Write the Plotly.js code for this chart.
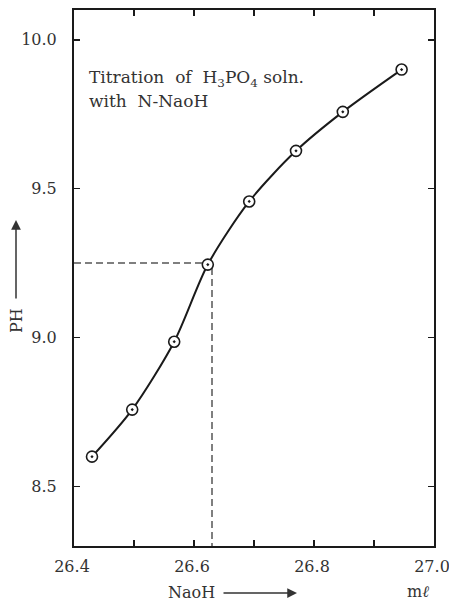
<!DOCTYPE html>
<html>
<head>
<meta charset="utf-8">
<script src="https://cdn.plot.ly/plotly-3.0.1.min.js"></script>
<style>html,body{margin:0;padding:0;background:#fff;}#chart{width:449px;height:607px;}</style>
</head>
<body>
<div id="chart"></div>
<script>
// Data
const naohML = [26.43, 26.497, 26.567, 26.623, 26.692, 26.77, 26.848, 26.946];
const pH = [8.60, 8.758, 8.986, 9.245, 9.457, 9.627, 9.758, 9.900];
// Reference (dashed) lines at the half-way point
const guideX = [26.4, 26.63, 26.63];
const guideY = [9.25, 9.25, 8.3];
const xTickVals = [26.4, 26.6, 26.8, 27.0];
const xTickText = ['26.4', '26.6', '26.8', '27.0'];
const xMinorTickVals = [26.5, 26.7, 26.9];
const yTickVals = [8.5, 9.0, 9.5, 10.0];
const yTickText = ['8.5', '9.0', '9.5', '10.0'];

const FONT = 'DejaVu Serif, Liberation Serif, serif';
const INK = '#1a1a1a';

const traces = [
  {
    x: guideX, y: guideY, mode: 'lines', type: 'scatter',
    line: {color: '#555', width: 1.5, dash: '7px,4px'},
    hoverinfo: 'skip', showlegend: false
  },
  {
    x: naohML, y: pH, mode: 'lines+markers', type: 'scatter',
    line: {color: INK, width: 2, shape: 'spline', smoothing: 0.8},
    marker: {symbol: 'circle-dot', size: 11, color: '#fff', line: {color: INK, width: 1.6}},
    showlegend: false
  }
];

// plot area: x 74..434 px, y 10..546 px
const L = 74, T = 10, W = 360, H = 536;
const px = v => (v - L) / W;
const py = v => (T + H - v) / H;

const layout = {
  width: 449, height: 607,
  margin: {l: L, r: 449 - L - W, t: T, b: 607 - T - H},
  paper_bgcolor: '#fff', plot_bgcolor: '#fff',
  font: {family: FONT, color: INK, size: 16},
  xaxis: {
    range: [26.4, 27.0], tickvals: xTickVals, ticktext: xTickText,
    ticks: 'inside', ticklen: 6, tickwidth: 1.5, tickcolor: INK,
    minor: {tickvals: xMinorTickVals, ticks: 'inside', ticklen: 6, tickwidth: 1.5, tickcolor: INK, showgrid: false},
    showline: true, linecolor: INK, linewidth: 2, mirror: 'ticks',
    showgrid: false, zeroline: false, ticklabelstandoff: 5,
    ticklabeloverflow: 'allow', ticklabelshift: -2,
    tickfont: {family: FONT, size: 16, color: '#333'}
  },
  yaxis: {
    range: [8.3, 10.1], tickvals: yTickVals, ticktext: yTickText,
    ticks: 'inside', ticklen: 6, tickwidth: 1.5, tickcolor: INK,
    showline: true, linecolor: INK, linewidth: 2, mirror: 'ticks',
    showgrid: false, zeroline: false, ticklabelstandoff: 12,
    tickfont: {family: FONT, size: 16, color: '#333'}
  },
  annotations: [
    {xref: 'paper', yref: 'paper', x: px(87), y: py(79), xanchor: 'left', yanchor: 'middle',
     text: 'Titration  of  H<sub>3</sub>PO<sub>4</sub> soln.', showarrow: false,
     font: {family: FONT, size: 17, color: '#333'}},
    {xref: 'paper', yref: 'paper', x: px(87), y: py(101), xanchor: 'left', yanchor: 'middle',
     text: 'with  N-NaoH', showarrow: false,
     font: {family: FONT, size: 17, color: '#333'}},
    {xref: 'paper', yref: 'paper', x: px(16), y: py(320), xanchor: 'center', yanchor: 'middle',
     text: 'PH', textangle: -90, showarrow: false,
     font: {family: FONT, size: 16, color: '#333'}},
    {xref: 'paper', yref: 'paper', x: px(16), y: py(220), text: '', showarrow: true,
     ax: 0, ay: 80, arrowhead: 2, arrowsize: 1.3, arrowwidth: 1.5, arrowcolor: '#333'},
    {xref: 'paper', yref: 'paper', x: px(191), y: py(592), xanchor: 'center', yanchor: 'middle',
     text: 'NaoH', showarrow: false,
     font: {family: FONT, size: 16, color: '#333'}},
    {xref: 'paper', yref: 'paper', x: px(297), y: py(593), text: '', showarrow: true,
     ax: -75, ay: 0, arrowhead: 2, arrowsize: 1.3, arrowwidth: 1.5, arrowcolor: '#333'},
    {xref: 'paper', yref: 'paper', x: px(418), y: py(591), xanchor: 'center', yanchor: 'middle',
     text: 'm<i>ℓ</i>', showarrow: false,
     font: {family: FONT, size: 16, color: '#333'}}
  ]
};

Plotly.newPlot('chart', traces, layout, {displayModeBar: false, staticPlot: true});
</script>
</body>
</html>
